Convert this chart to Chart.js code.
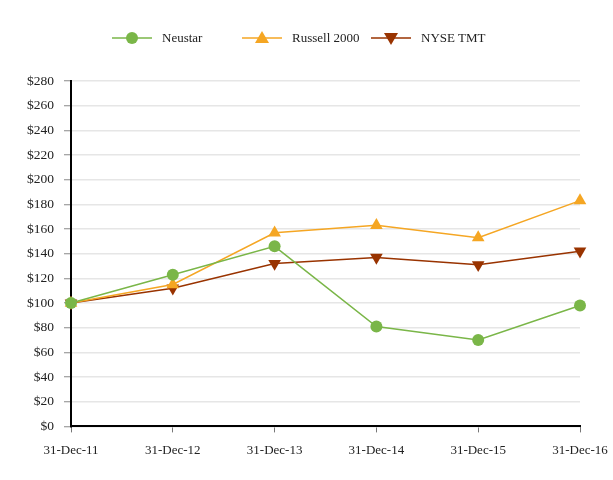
<!DOCTYPE html>
<html>
<head>
<meta charset="utf-8">
<script src="https://cdn.jsdelivr.net/npm/chart.js@4.4.0/dist/chart.umd.min.js"></script>
<style>
  html, body { margin:0; padding:0; background:#fff; }
  #wrap { position:relative; width:613px; height:480px; }
  #legend { position:absolute; top:28px; left:0; width:613px; height:20px; font-family:"Liberation Serif","Times New Roman",serif; font-size:13px; color:#222; }
  .item { position:absolute; top:0; height:20px; line-height:20px; }
  .item canvas { position:absolute; top:0; left:0; }
  .item span { position:absolute; left:50px; top:0; white-space:nowrap; }
</style>
</head>
<body>
<div id="wrap">
  <canvas id="c" width="613" height="480"></canvas>
  <div id="legend"></div>
</div>
<script>
const categories = ["31-Dec-11","31-Dec-12","31-Dec-13","31-Dec-14","31-Dec-15","31-Dec-16"];
const neustar = [100, 123, 146, 81, 70, 98];
const russell2000 = [100, 115, 157, 163, 153, 183];
const nyseTmt = [100, 112, 132, 137, 131, 142];
const seriesNames = ["Neustar", "Russell 2000", "NYSE TMT"];

const colors = { neustar:"#7ab648", russell:"#f5a623", nyse:"#993300" };
const FONT = "'Liberation Serif', 'Times New Roman', serif";

const datasets = [
  { label: seriesNames[0], data: neustar, borderColor: colors.neustar, backgroundColor: colors.neustar,
    pointStyle: "circle", pointRadius: 6, pointHoverRadius: 6, borderWidth: 1.5, order: 1, pointBorderWidth: 0 },
  { label: seriesNames[1], data: russell2000, borderColor: colors.russell, backgroundColor: colors.russell,
    pointStyle: "triangle", pointRadius: 7.3, pointHoverRadius: 7.3, borderWidth: 1.5, order: 2, pointBorderWidth: 0 },
  { label: seriesNames[2], data: nyseTmt, borderColor: colors.nyse, backgroundColor: colors.nyse,
    pointStyle: "triangle", rotation: 180, pointRadius: 7.3, pointHoverRadius: 7.3, borderWidth: 1.5, order: 3, pointBorderWidth: 0 }
];

new Chart(document.getElementById("c"), {
  type: "line",
  data: { labels: categories, datasets },
  options: {
    responsive: false,
    animation: false,
    layout: { padding: { top: 81, right: 33, bottom: 12, left: 0 } },
    plugins: { legend: { display: false }, tooltip: { enabled: false } },
    scales: {
      x: {
        offset: false,
        afterFit: (s) => { s.paddingRight = 0; s.paddingLeft = 0; },
        grid: { drawOnChartArea: false, drawTicks: true, tickLength: 6, color: "#777", tickColor: "#777", lineWidth: 1 },
        border: { display: true, color: "#000", width: 2 },
        ticks: { color: "#222", font: { family: FONT, size: 13 }, padding: 10, maxRotation: 0, autoSkip: false }
      },
      y: {
        min: 0, max: 280,
        afterFit: (s) => { s.width = 71; },
        grid: { color: "#e6e6e6", lineWidth: 1.5, drawTicks: true, tickLength: 7, tickColor: "#888", tickWidth: 1 },
        border: { display: true, color: "#000", width: 2 },
        ticks: { stepSize: 20, color: "#222", font: { family: FONT, size: 13.5 }, padding: 10,
                 callback: (v) => "$" + v }
      }
    }
  }
});

// HTML legend
const legendItems = [
  { name: seriesNames[0], color: colors.neustar, shape: "circle", left: 112 },
  { name: seriesNames[1], color: colors.russell, shape: "up", left: 242 },
  { name: seriesNames[2], color: colors.nyse, shape: "down", left: 371 }
];
const leg = document.getElementById("legend");
legendItems.forEach(it => {
  const d = document.createElement("div");
  d.className = "item";
  d.style.left = it.left + "px";
  const cv = document.createElement("canvas");
  cv.width = 42; cv.height = 20;
  const ctx = cv.getContext("2d");
  ctx.strokeStyle = it.color; ctx.lineWidth = 1.5;
  ctx.beginPath(); ctx.moveTo(0, 10); ctx.lineTo(40, 10); ctx.stroke();
  ctx.fillStyle = it.color;
  ctx.beginPath();
  if (it.shape === "circle") { ctx.arc(20, 10, 6, 0, Math.PI * 2); }
  else if (it.shape === "up") { ctx.moveTo(20, 3); ctx.lineTo(27, 15); ctx.lineTo(13, 15); ctx.closePath(); }
  else { ctx.moveTo(20, 17); ctx.lineTo(27, 5); ctx.lineTo(13, 5); ctx.closePath(); }
  ctx.fill();
  const sp = document.createElement("span");
  sp.textContent = it.name;
  d.appendChild(cv); d.appendChild(sp);
  leg.appendChild(d);
});
</script>
</body>
</html>
